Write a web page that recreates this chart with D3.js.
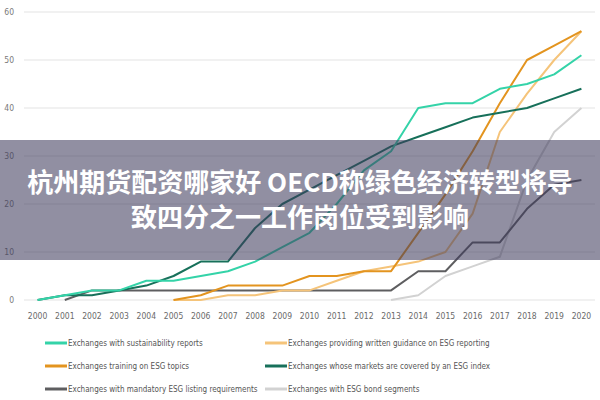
<!DOCTYPE html>
<html><head><meta charset="utf-8">
<script src="https://cdn.jsdelivr.net/npm/d3@7"></script>
<style>
html,body{margin:0;padding:0;background:#fff;}
svg{display:block;}
</style></head>
<body>
<svg id="c" width="600" height="400"></svg>
<script>
const years = [2000,2001,2002,2003,2004,2005,2006,2007,2008,2009,2010,2011,2012,2013,2014,2015,2016,2017,2018,2019,2020];
const yTicks = [0,10,20,30,40,50,60];
const sustainability = [0,1,2,2,4,4,5,6,8,11,14,20,27,31,40,41,41,44,45,47,51];
const guidance = [null,null,null,null,null,0,0,1,1,2,2,4,6,7,8,10,18,35,43,50,56];
const training = [null,null,null,null,null,0,1,3,3,3,5,5,6,6,14,22,31,41,50,53,56];
const esgIndex = [0,1,1,2,3,5,8,8,15,20,23,26,29,32,34,36,38,39,40,42,44];
const mandatory = [null,0,2,2,2,2,2,2,2,2,2,2,2,2,6,6,12,12,19,24,25];
const bonds = [null,null,null,null,null,null,null,null,null,null,null,null,null,0,1,5,7,9,25,35,40];
const seriesNames = [
  "Exchanges with sustainability reports",
  "Exchanges providing written guidance on ESG reporting",
  "Exchanges training on ESG topics",
  "Exchanges whose markets are covered by an ESG index",
  "Exchanges with mandatory ESG listing requirements",
  "Exchanges with ESG bond segments"
];
const seriesColors = ["#34d3a8","#f5c47a","#e3941f","#17705a","#5e5e60","#d2d2d2"];
const titleLines = ["杭州期货配资哪家好 OECD称绿色经济转型将导","致四分之一工作岗位受到影响"];

const seriesData = [sustainability, guidance, training, esgIndex, mandatory, bonds];

const svg = d3.select("#c");
const x = d3.scalePoint().domain(years).range([24,595]).padding(0.5);
const y = d3.scaleLinear().domain([0,60]).range([300,12]);
const FONT = "'Liberation Sans Narrow','DejaVu Sans Condensed',sans-serif";

// grid
svg.append("g").selectAll("line").data(yTicks).join("line")
  .attr("x1",24).attr("x2",595)
  .attr("y1",d=>y(d)).attr("y2",d=>y(d))
  .attr("stroke","#e3e3e3").attr("stroke-width",1.2);

// y labels
svg.append("g").selectAll("text").data(yTicks).join("text")
  .attr("x",14).attr("y",d=>y(d)).attr("dy","0.35em")
  .attr("text-anchor","end")
  .attr("font-family",FONT)
  .attr("font-size",8.5).attr("fill","#7a7a7a").text(d=>d);

// x labels
svg.append("g").selectAll("text").data(years).join("text")
  .attr("x",d=>x(d)).attr("y",316).attr("dy","0.35em")
  .attr("text-anchor","middle")
  .attr("font-family",FONT)
  .attr("font-size",8.5).attr("fill","#6a6a6a").text(d=>d);

// lines
const line = d3.line().defined(d=>d.v!==null).x(d=>x(d.yr)).y(d=>y(d.v));
const drawOrder = [5,4,1,2,3,0];
svg.append("g").selectAll("path").data(drawOrder).join("path")
  .attr("d",i=>line(years.map((yr,k)=>({yr, v: seriesData[i][k]}))))
  .attr("fill","none").attr("stroke",i=>seriesColors[i])
  .attr("stroke-width",2).attr("stroke-linejoin","round");

// legend
const leg = svg.append("g");
const legItems = seriesNames.map((n,i)=>({n,i,col:i%2,row:Math.floor(i/2)}));
const legX = [45,265], legY = [343,366,389];
const lg = leg.selectAll("g").data(legItems).join("g")
  .attr("transform",d=>`translate(${legX[d.col]},${legY[d.row]})`);
lg.append("line").attr("x1",0).attr("x2",22).attr("y1",0).attr("y2",0)
  .attr("stroke",d=>seriesColors[d.i]).attr("stroke-width",3);
lg.append("text").attr("x",23).attr("y",0).attr("dy","0.35em")
  .attr("font-family",FONT)
  .attr("font-size",8).attr("fill","#555").text(d=>d.n);

// overlay band
svg.append("rect").attr("x",0).attr("y",140).attr("width",600).attr("height",120)
  .attr("fill","rgba(62,58,92,0.57)");
svg.append("g").selectAll("text").data(titleLines).join("text")
  .attr("x",300).attr("y",(d,i)=>183+i*35).attr("dy","0.36em")
  .attr("text-anchor","middle")
  .attr("font-family","'Noto Sans CJK SC',sans-serif")
  .attr("font-weight",700).attr("font-size",26).attr("fill","#fff")
  .text(d=>d);
</script>
</body></html>
